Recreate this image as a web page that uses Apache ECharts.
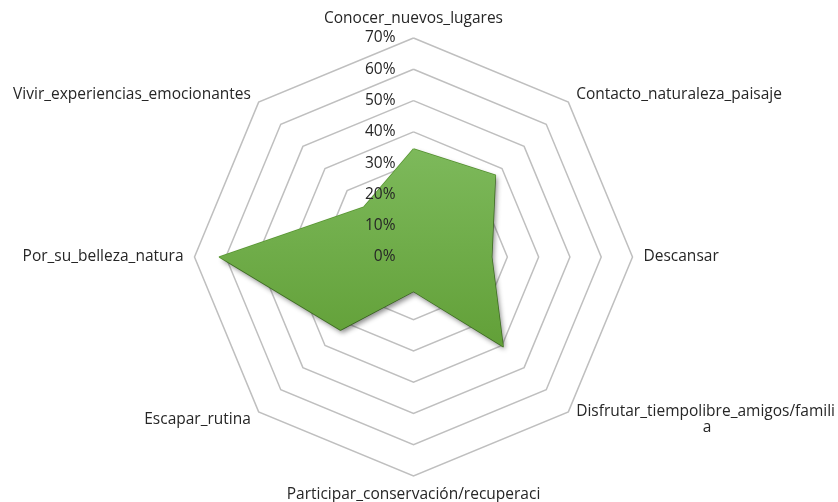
<!DOCTYPE html>
<html>
<head>
<meta charset="utf-8">
<script src="https://cdn.jsdelivr.net/npm/echarts@6/dist/echarts.min.js"></script>
<style>
html,body{margin:0;padding:0;background:#fff;}
#chart{width:838px;height:502px;}
</style>
</head>
<body>
<div id="chart"></div>
<script>
// Categories, clockwise from top, as shown in the chart
var categories = [
  "Conocer_nuevos_lugares",
  "Contacto_naturaleza_paisaje",
  "Descansar",
  "Disfrutar_tiempolibre_amigos/famili\na",
  "Participar_conservación/recuperaci",
  "Escapar_rutina",
  "Por_su_belleza_natura",
  "Vivir_experiencias_emocionantes"
];
// Series values (percent), same clockwise order
var values = [34.5, 37, 25, 40.5, 11, 33, 62, 22.5];
// Scale / tick labels
var axisMax = 70;
var tickLabels = ["0%", "10%", "20%", "30%", "40%", "50%", "60%", "70%"];

var FONT = "Open Sans";
var TEXT = '#262626';
var FS = 15.5;

// ECharts radar runs counter-clockwise: keep first, reverse the rest
function toCCW(arr) { return [arr[0]].concat(arr.slice(1).reverse()); }
var catsCCW = toCCW(categories);
var valsCCW = toCCW(values);

var chart = echarts.init(document.getElementById('chart'));

var gridIndicators = catsCCW.map(function (c) { return { name: c, min: 0, max: axisMax }; });
var labelIndicators = catsCCW.map(function (c, i) {
  var ind = { name: c, min: 0, max: axisMax };
  if (i === 0) ind.axisLabel = { show: true };
  return ind;
});

var common = {
  center: [413.5, 257],
  radius: 219,
  startAngle: 90,
  shape: 'polygon',
  splitNumber: 7,
  nameGap: 11
};

chart.setOption({
  animation: false,
  backgroundColor: '#ffffff',
  radar: [
    Object.assign({}, common, {
      z: 0,
      indicator: gridIndicators,
      axisName: {
        color: TEXT,
        fontFamily: FONT,
        fontSize: FS,
        formatter: function (name) {
          if (name.indexOf('\n') >= 0) {
            var parts = name.split('\n');
            return '{l|' + parts[0] + '}\n{c|' + parts[1] + '}';
          }
          return name;
        },
        rich: {
          l: { fontFamily: FONT, fontSize: FS, color: TEXT, lineHeight: 16 },
          c: { fontFamily: FONT, fontSize: FS, color: TEXT, lineHeight: 16, width: 262, align: 'center' }
        }
      },
      axisLine: { show: false },
      axisTick: { show: false },
      axisLabel: { show: false },
      splitLine: { lineStyle: { color: '#bfbfbf', width: 1.5 } },
      splitArea: { show: false }
    }),
    Object.assign({}, common, {
      z: 10,
      indicator: labelIndicators,
      axisName: { show: false },
      axisLine: { show: false },
      axisTick: { show: false },
      axisLabel: {
        show: false,
        color: TEXT,
        fontFamily: FONT,
        fontSize: FS,
        margin: 18,
        formatter: function (v) { return tickLabels[Math.round(v / 10)]; }
      },
      splitLine: { show: false },
      splitArea: { show: false }
    })
  ],
  series: [{
    type: 'radar',
    radarIndex: 0,
    symbol: 'none',
    z: 2,
    data: [{
      value: valsCCW,
      lineStyle: { color: '#5a9a33', width: 1.5 },
      areaStyle: {
        opacity: 1,
        color: new echarts.graphic.LinearGradient(0, 0, 0, 1, [
          { offset: 0, color: '#7db95b' },
          { offset: 1, color: '#62a038' }
        ]),
        shadowColor: 'rgba(0,0,0,0.45)',
        shadowBlur: 5,
        shadowOffsetX: 2,
        shadowOffsetY: 3
      }
    }]
  }]
});
</script>
</body>
</html>
